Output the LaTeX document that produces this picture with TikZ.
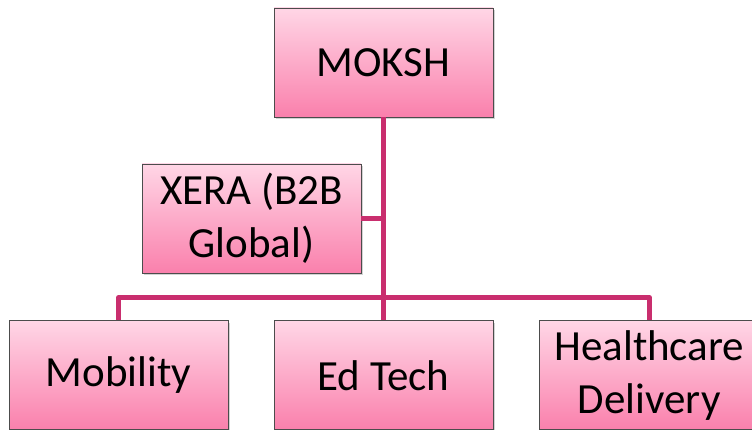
\documentclass[tikz,border=0pt]{standalone}
\usepackage{fontspec}
\setmainfont{Carlito}
\usepackage{tikz}
\usetikzlibrary{positioning, calc, shadows}

\definecolor{pinktop}{RGB}{255,214,230}
\definecolor{pinkbot}{RGB}{250,128,172}
\definecolor{linkpink}{RGB}{201,46,110}

\begin{document}
\begin{tikzpicture}[
    unit/.style={draw=gray!60!black, line width=0.8pt, top color=pinktop, bottom color=pinkbot,
      minimum width=219pt, minimum height=109pt, inner sep=0pt, align=center,
      font=\fontsize{43}{53}\selectfont,
      drop shadow={shadow xshift=1.5pt, shadow yshift=-2pt, opacity=0.35}},
    link/.style={line width=5pt, color=linkpink, line join=round}
]
  \useasboundingbox (0pt,0pt) rectangle (752pt,430pt);

  % Top
  \node[unit] (moksh) at (383.5pt,367.5pt) {MOKSH};

  % Side unit
  \node[unit] (xera) at (251.5pt,211.5pt) {XERA (B2B\\Global)};

  % Verticals
  \node[unit, below=203pt of moksh] (edtech) {Ed Tech};
  \node[unit, left=45pt of edtech] (mobility) {Mobility};
  \node[unit, right=46pt of edtech] (health) {Healthcare\\Delivery};

  % Connectors
  \coordinate[above=23pt of edtech.north] (bus);
  \draw[link] (moksh.south) -- (edtech.north);
  \draw[link] (xera.east) -- (xera.east -| moksh.south);
  \draw[link] (mobility.north) |- (bus) -| (health.north);
\end{tikzpicture}
\end{document}
